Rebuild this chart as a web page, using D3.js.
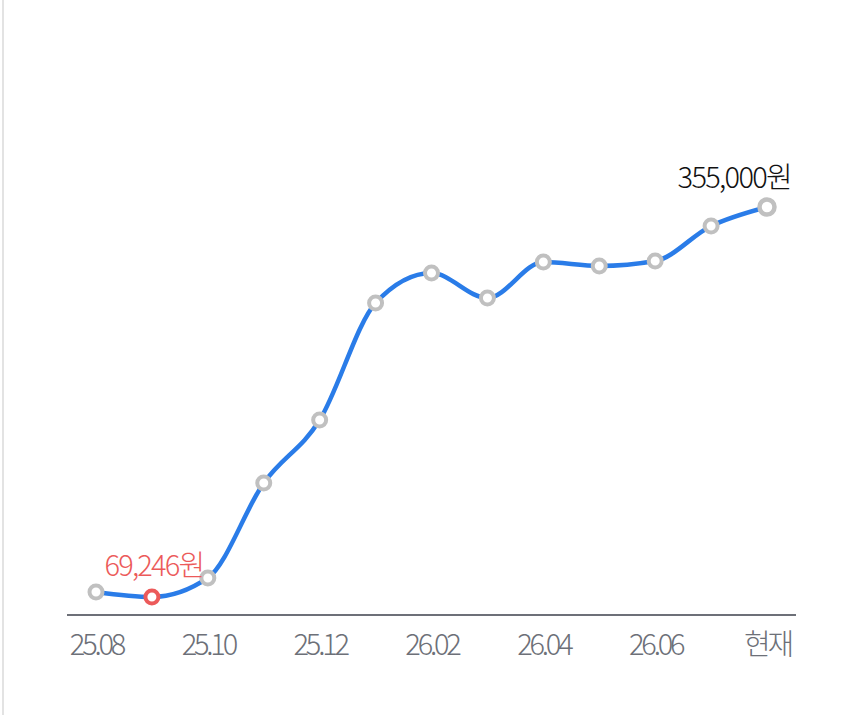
<!DOCTYPE html>
<html>
<head>
<meta charset="utf-8">
<script src="https://cdn.jsdelivr.net/npm/d3@7"></script>
<style>
  body { margin: 0; background: #fff; }
  svg { display: block; font-family: "Noto Sans CJK KR", "Noto Sans", sans-serif; }
</style>
</head>
<body>
<div class="price-chart"></div>
<script>
// Monthly prices (원), last point is "현재"
const months = ["25.08", "25.09", "25.10", "25.11", "25.12", "26.01", "26.02",
                "26.03", "26.04", "26.05", "26.06", "26.07", "현재"];
const prices = [72900, 69246, 83200, 152800, 198900, 284700, 306600,
                288300, 314700, 311800, 315400, 341100, 355000];
const tickLabels = ["25.08", "25.10", "25.12", "26.02", "26.04", "26.06", "현재"];

const width = 850;
const height = 715;

const svg = d3.select(".price-chart")
  .append("svg")
  .attr("width", width)
  .attr("height", height);

// light border on the left edge
svg.append("line")
  .attr("x1", 3).attr("x2", 3)
  .attr("y1", 0).attr("y2", height)
  .attr("stroke", "#e3e3e3")
  .attr("stroke-width", 2);

const x = d3.scalePoint()
  .domain(months)
  .range([96, 767]);

const y = d3.scaleLinear()
  .domain([d3.min(prices), d3.max(prices)])
  .range([597, 207]);

const data = months.map((m, i) => ({ month: m, price: prices[i] }));

// bottom axis
const axis = d3.axisBottom(x)
  .tickValues(tickLabels)
  .tickSize(0)
  .tickPadding(19);

const gAxis = svg.append("g")
  .attr("transform", "translate(0,615)")
  .call(axis);

gAxis.select(".domain")
  .attr("d", "M67,0H796")
  .attr("stroke", "#6d7078")
  .attr("stroke-width", 2);

gAxis.selectAll("text")
  .attr("fill", "#6d7078")
  .style("font-size", "29px")
  .style("font-weight", "300")
  .style("letter-spacing", "-3.2px")
  .style("font-family", "'Noto Sans CJK KR', sans-serif");

// the line
const line = d3.line()
  .x(d => x(d.month))
  .y(d => y(d.price))
  .curve(d3.curveMonotoneX);

svg.append("path")
  .datum(data)
  .attr("d", line)
  .attr("fill", "none")
  .attr("stroke", "#2a7ce8")
  .attr("stroke-width", 4.5)
  .attr("stroke-linecap", "round");

const minPrice = d3.min(prices);
const maxPrice = d3.max(prices);
const lastIdx = prices.length - 1;

// points
svg.selectAll(".pt")
  .data(data)
  .enter()
  .append("circle")
  .attr("class", "pt")
  .attr("cx", d => x(d.month))
  .attr("cy", d => y(d.price))
  .attr("r", (d, i) => i === lastIdx ? 7.5 : 6.5)
  .attr("fill", "#fff")
  .attr("stroke", d => d.price === minPrice ? "#ec5a5a" : "#c0c0c0")
  .attr("stroke-width", (d, i) => i === lastIdx ? 4.5 : 4);

const fmt = d3.format(",");

// min label
const minD = data.find(d => d.price === minPrice);
svg.append("text")
  .attr("x", x(minD.month) + 2)
  .attr("y", y(minD.price) - 21)
  .attr("text-anchor", "middle")
  .attr("fill", "#ec5a5a")
  .style("font-size", "29px")
  .style("font-weight", "300")
  .style("letter-spacing", "-1.8px")
  .text(fmt(minD.price) + "원");

// max label
const maxD = data.find(d => d.price === maxPrice);
svg.append("text")
  .attr("x", x(maxD.month) + 24)
  .attr("y", y(maxD.price) - 19)
  .attr("text-anchor", "end")
  .attr("fill", "#111")
  .style("font-size", "29px")
  .style("font-weight", "300")
  .style("letter-spacing", "-1.7px")
  .text(fmt(maxD.price) + "원");
</script>
</body>
</html>
